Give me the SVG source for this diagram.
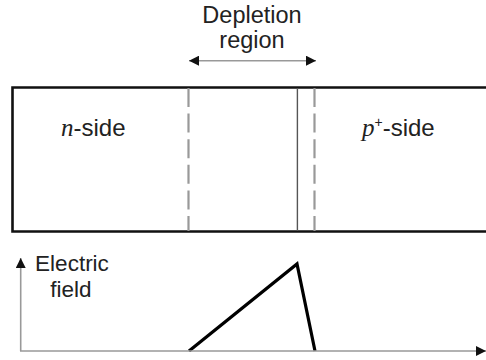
<svg xmlns="http://www.w3.org/2000/svg" width="486" height="360" viewBox="0 0 486 360">
<defs>
<marker id="ah" viewBox="0 0 10 10" refX="10" refY="5" markerWidth="10" markerHeight="10" markerUnits="userSpaceOnUse" orient="auto-start-reverse">
<path d="M0,0 L10,5 L0,10 Z" fill="#111"/>
</marker>
<style>
.t{font-family:"Liberation Sans",Arial,sans-serif;font-size:23px;fill:#222}
.s{font-family:"Liberation Sans",Arial,sans-serif;font-style:normal;font-size:24px;fill:#222}
.i{font-family:"Liberation Serif","Times New Roman",serif;font-style:italic;font-size:25px;fill:#222}
.ax{stroke:#999;stroke-width:1.6;fill:none}
.dash{stroke:#999;stroke-width:2.2;stroke-dasharray:19 6.6;fill:none}
</style>
</defs>
<rect width="486" height="360" fill="#fff"/>
<g id="label-depletion">
<text class="t" x="252" y="23" text-anchor="middle" style="font-size:23.5px">Depletion</text>
<text class="t" x="252" y="48" text-anchor="middle" style="font-size:23.5px">region</text>
</g>
<g id="device">
<path d="M490,87.5 H12.5 V231.5 H490" fill="none" stroke="#111" stroke-width="2.6"/>
<line class="dash" x1="188.5" y1="88" x2="188.5" y2="231"/>
<line class="dash" x1="314.5" y1="88" x2="314.5" y2="231"/>
<line x1="297.4" y1="88" x2="297.4" y2="231" stroke="#555" stroke-width="1.4"/>
<text class="i" x="61" y="136">n<tspan class="s">-side</tspan></text>
<text class="i" x="362" y="136">p<tspan class="s" style="font-size:14px" dy="-9">+</tspan><tspan class="s" dy="9">-side</tspan></text>
</g>
<g id="graph">
<text class="t" x="72" y="270.5" text-anchor="middle" style="font-size:22.5px">Electric</text>
<text class="t" x="71" y="296.5" text-anchor="middle" style="font-size:22.5px">field</text>
<path d="M189,351 L297,264 L315,351" fill="none" stroke="#000" stroke-width="3.2" stroke-linejoin="miter"/>
</g>
<g id="connectors">
<line class="ax" x1="189" y1="60.7" x2="316" y2="60.7" marker-start="url(#ah)" marker-end="url(#ah)"/>
<line class="ax" x1="20.7" y1="351" x2="20.7" y2="258" marker-end="url(#ah)"/>
<line class="ax" x1="20" y1="351" x2="486" y2="351" marker-end="url(#ah)"/>
</g>
</svg>
